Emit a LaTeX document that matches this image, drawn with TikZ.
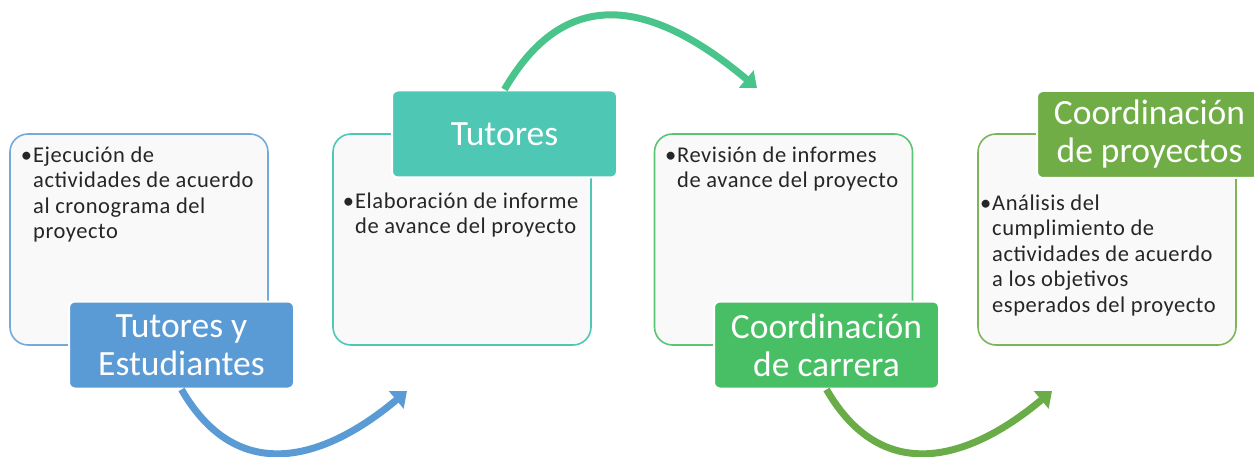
\documentclass[tikz,border=0pt]{standalone}
\usepackage{fontspec}
\setmainfont{Carlito}
\newfontfamily\bodyfont[LetterSpace=2.5]{Carlito}
\usetikzlibrary{arrows.meta}

\definecolor{cblue}{HTML}{5B9BD5}
\definecolor{cteal}{HTML}{4EC8B4}
\definecolor{cgreen}{HTML}{48BF65}
\definecolor{colive}{HTML}{70AD47}
\definecolor{carctwo}{HTML}{49C48B}
\definecolor{carcthree}{HTML}{6AAD48}
\definecolor{cpanel}{HTML}{F9F9F9}

\tikzset{
 panel/.style={draw=#1, line width=1.6pt, fill=cpanel, rounded corners=18pt,
   minimum width=258pt, minimum height=211pt},
 heading/.style={fill=#1, draw=white, line width=2pt, rounded corners=6pt,
   minimum width=225pt, minimum height=87pt, inner sep=0pt, text=white,
   align=center, font=\fontsize{35.5}{38}\selectfont},
 bullets/.style={anchor=north west, align=left, inner sep=0pt, text=black!85,
   font=\bodyfont\fontsize{22.5}{25.5}\selectfont},
 flow/.style={draw=#1, line width=7pt, -{Triangle[length=14pt,width=22pt]}},
}
\newcommand{\bul}{\llap{\textbullet\hspace{1pt}}\strut}

\begin{document}
\begin{tikzpicture}[x=1pt,y=1pt]
\useasboundingbox (0,0) rectangle (1254,456);

% paneles
\node[panel=cblue!85]  (box1) at (139,216.5) {};
\node[panel=cteal]     (box2) at (462,216.5) {};
\node[panel=cgreen!90] (box3) at (783.5,216.5) {};
\node[panel=colive!90] (box4) at (1107,216.5) {};

\node[bullets] (txt1) at (33,312) {\bul Ejecución de\\actividades de acuerdo\\al cronograma del\\proyecto};
\node[bullets] (txt2) at (355,266) {\bul Elaboración de informe\\de avance del proyecto};
\node[bullets] (txt3) at (677,312) {\bul Revisión de informes\\de avance del proyecto};
\node[bullets] (txt4) at (992,264) {\bul Análisis del\\cumplimiento de\\actividades de acuerdo\\a los objetivos\\esperados del proyecto};

% titulos
\node[heading=cblue]  (lab1) at (181.5,111) {Tutores y\\Estudiantes};
\node[heading=cteal]  (lab2) at (504.5,322) {Tutores};
\node[heading=cgreen] (lab3) at (826.5,111) {Coordinación\\de carrera};
\node[heading=colive] (lab4) at (1149.5,321.5) {Coordinación\\de proyectos};

% flechas
\coordinate (tip1) at (407,65);
\coordinate (tip2) at (757,368);
\coordinate (tip3) at (1052,65);
\draw[flow=cblue]     (lab1.south) to[out=-60,in=-140,looseness=1.25] (tip1);
\draw[flow=carctwo]   (lab2.north) to[out=60,in=140,looseness=1.3] (tip2);
\draw[flow=carcthree] (lab3.south) to[out=-60,in=-140,looseness=1.25] (tip3);
\end{tikzpicture}
\end{document}
